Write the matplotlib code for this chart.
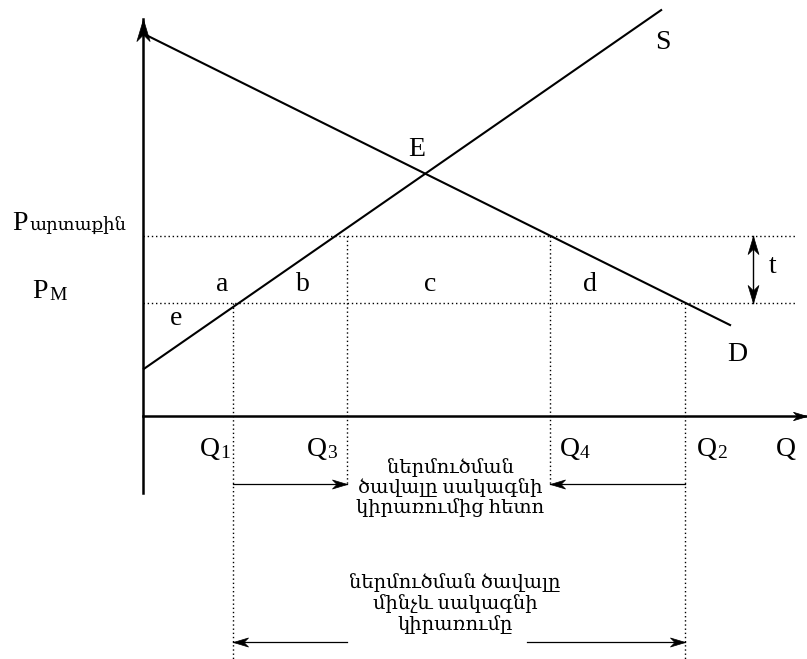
import matplotlib.pyplot as plt
from matplotlib.markers import MarkerStyle
from matplotlib.path import Path
from matplotlib.transforms import Affine2D
import math

# fonts: serif latin, fall back for armenian glyphs
plt.rcParams['font.family'] = ['Liberation Serif', 'DejaVu Serif', 'DejaVu Sans']

# data (origin at the crossing of the axes)
demand_q = [0, 588]
demand_p = [382, 90]
supply_q = [0, 519]
supply_p = [46, 406]
p_world = 180
p_m = 113
q1, q3, q4, q2 = 90, 204, 407, 542
q_axis_end = 664
p_axis_top = 397
p_axis_bottom = -77
price_line_end = 652
arrow_mid = -68
arrow_low = -226
left_arrow_start = 204
right_arrow_start = 384
t_pos = 610

mid_text = 'ներմուծման\nծավալը սակագնի\nկիրառումից հետո'
low_text = 'ներմուծման ծավալը\nմինչև սակագնի\nկիրառումը'

fig = plt.figure(figsize=(8.07, 6.59), dpi=100)
ax = fig.add_axes([0, 0, 1, 1])
ax.set_xlim(-143, 664)
ax.set_ylim(-243.5, 415.5)
ax.axis('off')

# stealth shaped head, tip at origin pointing to +x
head_path = Path([(0, 0), (-1, 0.3), (-0.7, 0), (-1, -0.3), (0, 0)],
                 [Path.MOVETO, Path.LINETO, Path.LINETO, Path.LINETO, Path.CLOSEPOLY])


def head(x, y, angle, length):
    m = MarkerStyle(head_path, transform=Affine2D().rotate_deg(angle))
    ax.plot([x], [y], marker=m, markersize=2 * length * 0.72, color='black',
            markeredgewidth=0.5, linestyle='none')


def arrow(x0, y0, x1, y1, lw=0.9, length=15, both=False):
    ax.plot([x0, x1], [y0, y1], color='black', lw=lw)
    ang = math.degrees(math.atan2(y1 - y0, x1 - x0))
    head(x1, y1, ang, length)
    if both:
        head(x0, y0, ang + 180, length)


# axes
arrow(0, p_axis_bottom, 0, p_axis_top, lw=1.8, length=22)
arrow(0, 0, q_axis_end, 0, lw=1.8, length=14)

# demand and supply
ax.plot(demand_q, demand_p, color='black', lw=1.5, solid_capstyle='butt')
ax.plot(supply_q, supply_p, color='black', lw=1.5, solid_capstyle='butt')

# price lines
dot = dict(color='black', lw=1.0, linestyle=(0, (1, 2)))
ax.plot([0, price_line_end], [p_world, p_world], **dot)
ax.plot([0, price_line_end], [p_m, p_m], **dot)

# quantity lines
ax.plot([q1, q1], [p_m, -243.5], **dot)
ax.plot([q2, q2], [p_m, -243.5], **dot)
ax.plot([q3, q3], [p_world, arrow_mid], **dot)
ax.plot([q4, q4], [p_world, arrow_mid], **dot)

# import volume arrows
arrow(q1, arrow_mid, q3, arrow_mid)
arrow(q2, arrow_mid, q4, arrow_mid)
arrow(left_arrow_start, arrow_low, q1, arrow_low)
arrow(right_arrow_start, arrow_low, q2, arrow_low)

# tariff arrow
arrow(t_pos, p_m, t_pos, p_world, lw=1.0, length=18, both=True)

big = 20
small = 14
ax.text(520, 373, 'S', fontsize=big, ha='center', va='center')
ax.text(274, 266, 'E', fontsize=big, ha='center', va='center')
ax.text(594, 61, 'D', fontsize=big, ha='center', va='center')
for lbl, x in zip(['a', 'b', 'c', 'd'], [79, 160, 287, 447]):
    ax.text(x, 131, lbl, fontsize=big, ha='center', va='center')
ax.text(33, 97, 'e', fontsize=big, ha='center', va='center')
ax.text(630, 149, 't', fontsize=big, ha='center', va='center')

# price labels
ax.text(-131, 186, 'P', fontsize=big, ha='left', va='baseline')
ax.text(-114, 185, 'արտաքին', fontsize=small - 1, ha='left', va='baseline')
ax.text(-111, 117, 'P', fontsize=big, ha='left', va='baseline')
ax.text(-94, 115, 'M', fontsize=small, ha='left', va='baseline')

# quantity labels
q_labels = [('1', 57), ('3', 164), ('4', 417), ('2', 554)]
for sub, x in q_labels:
    ax.text(x, -40, 'Q', fontsize=big, ha='left', va='baseline')
    ax.text(x + 20, -42, sub, fontsize=small, ha='left', va='baseline')
ax.text(633, -40, 'Q', fontsize=big, ha='left', va='baseline')

ax.text(307, -72, mid_text, fontsize=small, ha='center', va='center', linespacing=1.1)
ax.text(312, -188, low_text, fontsize=small, ha='center', va='center', linespacing=1.15)

fig.savefig('out.png', dpi=100)
